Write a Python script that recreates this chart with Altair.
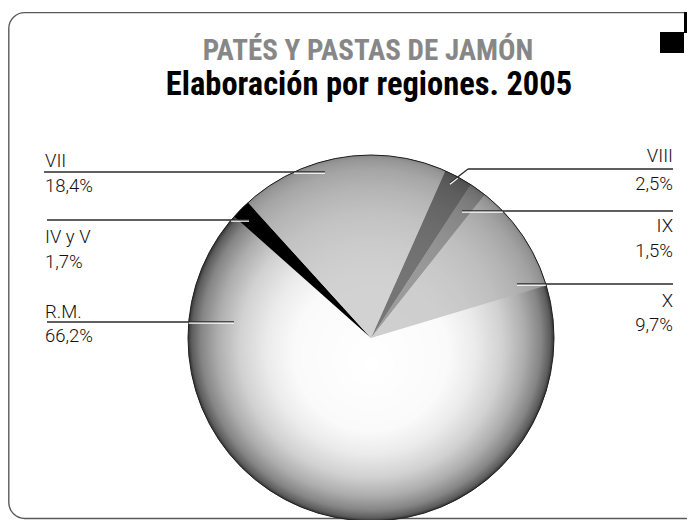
import math
import altair as alt
import pandas as pd

# ---------------- data ----------------
title_main = "PATÉS Y PASTAS DE JAMÓN"
title_sub = "Elaboración por regiones. 2005"

regions = ["VIII", "IX", "X", "R.M.", "IV y V", "VII"]
shares = [2.5, 1.5, 9.7, 66.2, 1.7, 18.4]
slice_colors = ["#767676", "#9c9c9c", "#d0d0d0", "#ffffff", "#000000", "#d3d3d3"]
untinted = ["R.M.", "IV y V"]


def fmt(v):
    return f"{v:.1f}".replace(".", ",") + "%"


# ---------------- layout (chart pixels) ----------------
W, H = 679, 512
CX, CY, R = 363, 330, 183
START = math.radians(24)

label_layout = {
    "VII":    dict(side="left",  name_y=159, pct_y=184, line_y=164, x_out=36,  x_in=317),
    "IV y V": dict(side="left",  name_y=235, pct_y=260, line_y=212, x_out=39,  x_in=241),
    "R.M.":   dict(side="left",  name_y=310, pct_y=334, line_y=314, x_out=39,  x_in=226),
    "VIII":   dict(side="right", name_y=154, pct_y=182, line_y=161, x_out=665, x_in=460, diag=(442, 175)),
    "IX":     dict(side="right", name_y=224, pct_y=249, line_y=203, x_out=665, x_in=454),
    "X":      dict(side="right", name_y=299, pct_y=323, line_y=276, x_out=665, x_in=509),
}
LEFT_X, RIGHT_X = 37, 665


def inside_part(p, q):
    (x1, y1), (x2, y2) = p, q
    dx, dy = x2 - x1, y2 - y1
    fx, fy = x1 - CX, y1 - CY
    a = dx * dx + dy * dy
    b = 2 * (fx * dx + fy * dy)
    c = fx * fx + fy * fy - R * R
    disc = b * b - 4 * a * c
    if disc <= 0:
        return None
    s = math.sqrt(disc)
    t1, t2 = (-b - s) / (2 * a), (-b + s) / (2 * a)
    lo, hi = max(0.0, t1), min(1.0, t2)
    if hi <= lo:
        return None
    return (x1 + lo * dx, y1 + lo * dy), (x1 + hi * dx, y1 + hi * dy)


dark_rows, white_rows, left_rows, right_rows = [], [], [], []
for reg, val in zip(regions, shares):
    L = label_layout[reg]
    segs = [((L["x_out"], L["line_y"]), (L["x_in"], L["line_y"]))]
    if "diag" in L:
        segs.append(((L["x_in"], L["line_y"]), L["diag"]))
    for p, q in segs:
        dark_rows.append(dict(x1=p[0], y1=p[1], x2=q[0], y2=q[1]))
        ins = inside_part(p, q)
        if ins:
            (a1, b1), (a2, b2) = ins
            white_rows.append(dict(x1=a1, y1=b1 + 1.2, x2=a2, y2=b2 + 1.2))
    rows = left_rows if L["side"] == "left" else right_rows
    lx = LEFT_X if L["side"] == "left" else RIGHT_X
    rows.append(dict(text=reg, x=lx, y=L["name_y"]))
    rows.append(dict(text=fmt(val), x=lx, y=L["pct_y"]))

one = pd.DataFrame({"k": [0]})
pie_df = pd.DataFrame({"region": regions, "share": shares, "order": list(range(len(regions)))})

LABEL_FONT = "Roboto, sans-serif"
TITLE_FONT = "Roboto Condensed, Open Sans Condensed, sans-serif"

# ---------------- layers ----------------
frame = alt.Chart(one).mark_rect(
    filled=False, stroke="#5a5a5a", strokeWidth=1.4, cornerRadius=16
).encode(x=alt.value(0.8), x2=alt.value(W + 20), y=alt.value(4.6), y2=alt.value(510.5))

squares_df = pd.DataFrame({"x1": [676, 652], "x2": [W + 5, 676], "y1": [4, 24], "y2": [25, 45]})
squares = alt.Chart(squares_df).mark_rect(color="#000000").encode(
    x=alt.X("x1:Q", scale=None, axis=None), x2="x2:Q",
    y=alt.Y("y1:Q", scale=None, axis=None), y2="y2:Q")

t_main = alt.Chart(pd.DataFrame({"t": [title_main]})).mark_text(
    font=TITLE_FONT, fontWeight="bold", fontSize=29, color="#878787",
    align="center", baseline="alphabetic"
).encode(text="t:N", x=alt.value(360), y=alt.value(51.5))

t_sub = alt.Chart(pd.DataFrame({"t": [title_sub]})).mark_text(
    font=TITLE_FONT, fontWeight="bold", fontSize=32.5, color="#000000",
    align="center", baseline="alphabetic"
).encode(text="t:N", x=alt.value(361), y=alt.value(87))

theta_enc = alt.Theta("share:Q", stack=True, scale=alt.Scale(range=[START, START + 2 * math.pi]))
color_enc = alt.Color("region:N", scale=alt.Scale(domain=regions, range=slice_colors), legend=None)

pie = alt.Chart(pie_df).mark_arc(radius=R).encode(
    theta=theta_enc, order=alt.Order("order:Q"), color=color_enc,
    x=alt.value(CX), y=alt.value(CY),
)

shade = alt.RadialGradient(
    gradient="radial", x1=0.5, y1=0.575, r1=0, x2=0.5, y2=0.5, r2=0.5,
    stops=[
        alt.GradientStop(offset=0.0, color="rgba(0,0,0,0)"),
        alt.GradientStop(offset=0.42, color="rgba(0,0,0,0.02)"),
        alt.GradientStop(offset=0.57, color="rgba(0,0,0,0.08)"),
        alt.GradientStop(offset=0.72, color="rgba(0,0,0,0.18)"),
        alt.GradientStop(offset=0.84, color="rgba(0,0,0,0.32)"),
        alt.GradientStop(offset=0.93, color="rgba(0,0,0,0.48)"),
        alt.GradientStop(offset=0.98, color="rgba(0,0,0,0.64)"),
        alt.GradientStop(offset=1.0, color="rgba(0,0,0,0.8)"),
    ],
)
overlay = alt.Chart(one).mark_arc(
    radius=R, theta=0, theta2=2 * math.pi, fill=shade
).encode(x=alt.value(CX), y=alt.value(CY))

# lighten the grey slices again so that only R.M. keeps the strong rim shading
tint = alt.Chart(pie_df).mark_arc(radius=R).encode(
    theta=theta_enc, order=alt.Order("order:Q"), color=color_enc,
    opacity=alt.condition(alt.FieldOneOfPredicate(field="region", oneOf=untinted),
                          alt.value(0), alt.value(0.55)),
    x=alt.value(CX), y=alt.value(CY),
)

rim = alt.Chart(one).mark_arc(
    radius=R, theta=0, theta2=2 * math.pi, fillOpacity=0, stroke="#1e1e1e", strokeWidth=1
).encode(x=alt.value(CX), y=alt.value(CY))

dark_lines = alt.Chart(pd.DataFrame(dark_rows)).mark_rule(color="#2a2a2a", strokeWidth=1.3).encode(
    x=alt.X("x1:Q", scale=None, axis=None), x2="x2:Q",
    y=alt.Y("y1:Q", scale=None, axis=None), y2="y2:Q")
white_lines = alt.Chart(pd.DataFrame(white_rows)).mark_rule(color="#ffffff", strokeWidth=1.2).encode(
    x=alt.X("x1:Q", scale=None, axis=None), x2="x2:Q",
    y=alt.Y("y1:Q", scale=None, axis=None), y2="y2:Q")

labels_left = alt.Chart(pd.DataFrame(left_rows)).mark_text(
    font=LABEL_FONT, fontWeight=300, fontSize=18.5, color="#111111", align="left", baseline="alphabetic"
).encode(text="text:N", x=alt.X("x:Q", scale=None, axis=None), y=alt.Y("y:Q", scale=None, axis=None))
labels_right = alt.Chart(pd.DataFrame(right_rows)).mark_text(
    font=LABEL_FONT, fontWeight=300, fontSize=18.5, color="#111111", align="right", baseline="alphabetic"
).encode(text="text:N", x=alt.X("x:Q", scale=None, axis=None), y=alt.Y("y:Q", scale=None, axis=None))

chart = alt.layer(
    frame, squares, t_main, t_sub, pie, overlay, tint, rim, dark_lines, white_lines, labels_left, labels_right
).properties(
    width=W, height=H, autosize=alt.AutoSizeParams(type="none"), padding=0,
    background="#ffffff"
).configure_view(stroke=None)

chart.save("out.html", embed_options={"renderer": "svg", "actions": False})
